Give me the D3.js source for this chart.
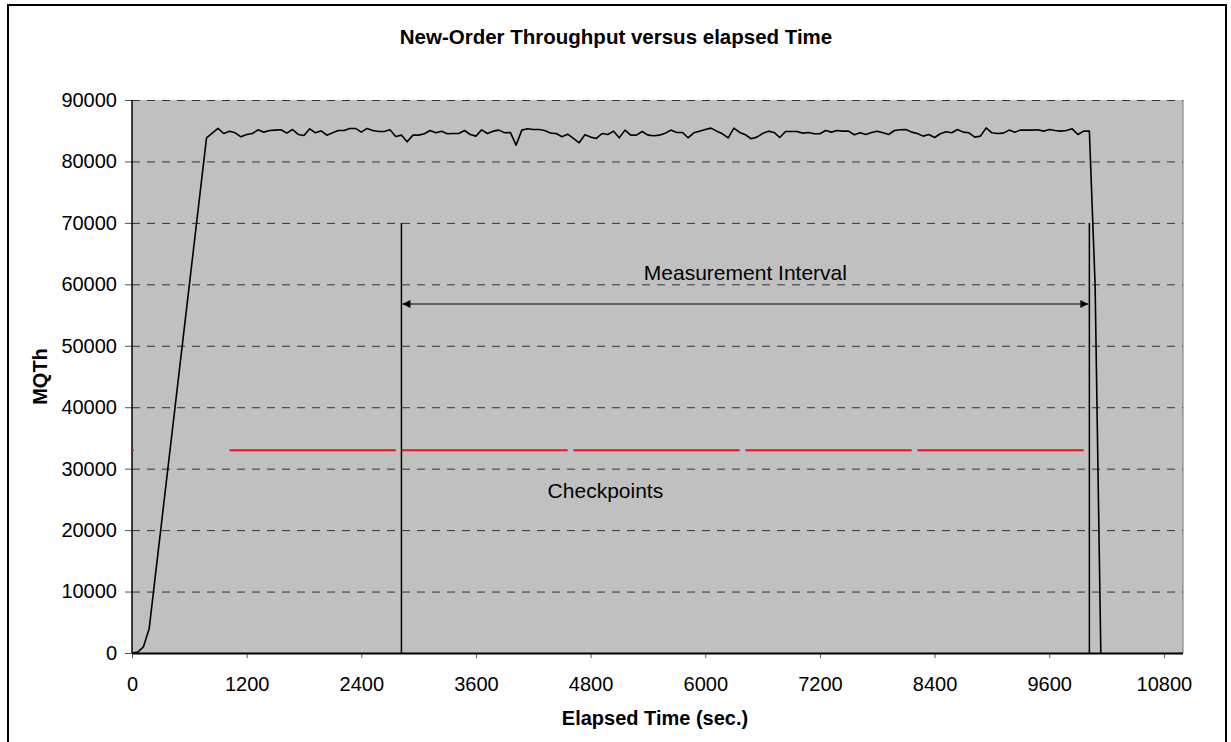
<!DOCTYPE html>
<html>
<head>
<meta charset="utf-8">
<script src="https://cdn.jsdelivr.net/npm/d3@7"></script>
<style>
  body { margin: 0; background: #fff; }
  text { font-family: "Liberation Sans", Arial, sans-serif; fill: #000; }
</style>
</head>
<body>
<div class="canvas"></div>
<script>
// throughput samples (elapsed seconds, MQTh)
const elapsed = [0, 60, 120, 180, 780, 840, 900, 960, 1020, 1080, 1140, 1200, 1260, 1320, 1380, 1440, 1500, 1560, 1620, 1680, 1740, 1800, 1860, 1920, 1980, 2040, 2100, 2160, 2220, 2280, 2340, 2400, 2460, 2520, 2580, 2640, 2700, 2760, 2820, 2880, 2940, 3000, 3060, 3120, 3180, 3240, 3300, 3360, 3420, 3480, 3540, 3600, 3660, 3720, 3780, 3840, 3900, 3960, 4020, 4080, 4140, 4200, 4260, 4320, 4380, 4440, 4500, 4560, 4620, 4680, 4740, 4800, 4860, 4920, 4980, 5040, 5100, 5160, 5220, 5280, 5340, 5400, 5460, 5520, 5580, 5640, 5700, 5760, 5820, 5880, 5940, 6000, 6060, 6120, 6180, 6240, 6300, 6360, 6420, 6480, 6540, 6600, 6660, 6720, 6780, 6840, 6900, 6960, 7020, 7080, 7140, 7200, 7260, 7320, 7380, 7440, 7500, 7560, 7620, 7680, 7740, 7800, 7860, 7920, 7980, 8040, 8100, 8160, 8220, 8280, 8340, 8400, 8460, 8520, 8580, 8640, 8700, 8760, 8820, 8880, 8940, 9000, 9060, 9120, 9180, 9240, 9300, 9360, 9420, 9480, 9540, 9600, 9660, 9720, 9780, 9840, 9900, 9960, 10020, 10080, 10140];
const mqth = [0, 150, 1000, 4000, 83850, 84600, 85370, 84550, 84930, 84660, 84010, 84390, 84550, 85150, 84770, 85040, 85100, 85150, 84610, 85200, 84390, 84230, 85310, 84660, 84990, 84280, 84660, 85040, 85040, 85370, 85370, 84770, 85370, 85040, 84880, 84880, 85150, 84070, 84280, 83200, 84280, 84280, 84500, 85040, 84660, 84930, 84500, 84550, 84550, 85040, 84390, 84120, 85150, 84550, 84930, 85100, 84660, 84720, 82660, 85100, 85310, 85200, 85200, 85040, 84610, 84550, 84010, 84440, 83740, 83040, 84340, 83960, 83740, 84550, 84390, 84930, 83850, 85100, 84280, 84280, 84880, 84280, 84170, 84280, 84600, 85100, 84720, 84720, 83850, 84660, 84930, 85200, 85420, 84930, 84500, 83850, 85420, 84720, 84340, 83690, 83960, 84550, 84930, 84720, 83900, 84880, 84880, 84880, 84610, 84720, 84500, 84500, 85040, 84770, 85040, 84930, 84930, 84340, 84660, 84390, 84700, 84930, 84660, 84390, 85040, 85150, 85200, 84770, 84550, 84120, 84390, 83900, 84500, 84820, 84660, 85200, 84770, 84660, 83960, 84120, 85470, 84660, 84550, 84610, 85100, 84770, 85100, 85100, 85100, 85150, 84930, 85200, 85040, 84930, 85040, 85310, 84390, 84930, 84930, 60000, 0];

// checkpoint intervals (seconds) drawn at a fixed level
const checkpointStart = [0, 1020, 2820, 4620, 6420, 8220];
const checkpointEnd = [20, 2760, 4560, 6360, 8160, 9960];
const checkpointLevel = 33000;

// measurement interval
const measureStart = 2820;
const measureEnd = 10020;
const measureMarkTop = 70000;
const measureArrowLevel = 56800;

const xTicks = [0, 1200, 2400, 3600, 4800, 6000, 7200, 8400, 9600, 10800];
const yTicks = [0, 10000, 20000, 30000, 40000, 50000, 60000, 70000, 80000, 90000];

const dims = { width: 1231, height: 742 };
const plot = { left: 132, right: 1183, top: 100, bottom: 653 };

const svg = d3
  .select(".canvas")
  .append("svg")
  .attr("width", dims.width)
  .attr("height", dims.height);

// outer chart frame
svg
  .append("rect")
  .attr("x", 8)
  .attr("y", 5)
  .attr("width", 1218)
  .attr("height", 780)
  .attr("fill", "#fff")
  .attr("stroke", "#000")
  .attr("stroke-width", 2);

const x = d3.scaleLinear().domain([0, 11000]).range([plot.left, plot.right]);
const y = d3.scaleLinear().domain([0, 90000]).range([plot.bottom, plot.top]);

// plot background
svg
  .append("rect")
  .attr("x", plot.left)
  .attr("y", plot.top)
  .attr("width", plot.right - plot.left)
  .attr("height", plot.bottom - plot.top)
  .attr("fill", "#c0c0c0");

// right border of plot area
svg
  .append("line")
  .attr("x1", plot.right)
  .attr("x2", plot.right)
  .attr("y1", plot.top)
  .attr("y2", plot.bottom)
  .attr("stroke", "#777")
  .attr("stroke-width", 1);

// dashed gridlines
svg
  .append("g")
  .selectAll("line")
  .data(yTicks.filter((d) => d > 0))
  .enter()
  .append("line")
  .attr("x1", plot.left)
  .attr("x2", plot.right)
  .attr("y1", (d) => y(d) + 0.5)
  .attr("y2", (d) => y(d) + 0.5)
  .attr("stroke", "#333")
  .attr("stroke-width", 1)
  .attr("stroke-dasharray", "8,7");

// axes
const yAxis = svg
  .append("g")
  .attr("transform", `translate(${plot.left}, 0)`)
  .call(d3.axisLeft(y).tickValues(yTicks).tickSize(7).tickPadding(8).tickFormat(d3.format("d")));

const xAxis = svg
  .append("g")
  .attr("transform", `translate(0, ${plot.bottom})`)
  .call(d3.axisBottom(x).tickValues(xTicks).tickSize(5).tickPadding(19).tickFormat(d3.format("d")));

[yAxis, xAxis].forEach((ax) => {
  ax.select(".domain").remove();
  ax.selectAll("text").attr("font-size", 20).attr("font-family", "Liberation Sans, Arial, sans-serif");
  ax.selectAll("line").attr("stroke", "#555");
});

svg
  .append("line")
  .attr("x1", plot.left)
  .attr("x2", plot.left)
  .attr("y1", plot.top)
  .attr("y2", plot.bottom)
  .attr("stroke", "#000")
  .attr("stroke-width", 1.5);

svg
  .append("line")
  .attr("x1", plot.left)
  .attr("x2", plot.right)
  .attr("y1", plot.bottom + 0.5)
  .attr("y2", plot.bottom + 0.5)
  .attr("stroke", "#000")
  .attr("stroke-width", 2);

// checkpoints
svg
  .append("g")
  .selectAll("line")
  .data(checkpointStart.map((s, i) => ({ s, e: checkpointEnd[i] })))
  .enter()
  .append("line")
  .attr("x1", (d) => x(d.s))
  .attr("x2", (d) => x(d.e))
  .attr("y1", y(checkpointLevel))
  .attr("y2", y(checkpointLevel))
  .attr("stroke", "#e8141c")
  .attr("stroke-width", 2);

// measurement interval markers
svg
  .append("g")
  .selectAll("line")
  .data([measureStart, measureEnd])
  .enter()
  .append("line")
  .attr("x1", (d) => x(d))
  .attr("x2", (d) => x(d))
  .attr("y1", y(0))
  .attr("y2", y(measureMarkTop))
  .attr("stroke", "#000")
  .attr("stroke-width", 1.5);

const defs = svg.append("defs");
["start", "end"].forEach((kind) => {
  defs
    .append("marker")
    .attr("id", `arrow-${kind}`)
    .attr("viewBox", "0 0 10 10")
    .attr("refX", kind === "end" ? 10 : 0)
    .attr("refY", 5)
    .attr("markerUnits", "userSpaceOnUse")
    .attr("markerWidth", 9)
    .attr("markerHeight", 8)
    .attr("orient", "auto")
    .append("path")
    .attr("d", kind === "end" ? "M0,0 L10,5 L0,10 Z" : "M10,0 L0,5 L10,10 Z")
    .attr("fill", "#000");
});

svg
  .append("line")
  .attr("x1", x(measureStart) + 1)
  .attr("x2", x(measureEnd) - 1)
  .attr("y1", y(measureArrowLevel))
  .attr("y2", y(measureArrowLevel))
  .attr("stroke", "#000")
  .attr("stroke-width", 1.2)
  .attr("marker-start", "url(#arrow-start)")
  .attr("marker-end", "url(#arrow-end)");

svg
  .append("text")
  .attr("x", x((measureStart + measureEnd) / 2))
  .attr("y", y(measureArrowLevel) - 24)
  .attr("text-anchor", "middle")
  .attr("font-size", 21)
  .text("Measurement Interval");

svg
  .append("text")
  .attr("x", x(4350))
  .attr("y", y(checkpointLevel) + 48)
  .attr("font-size", 21)
  .text("Checkpoints");

// throughput line
const line = d3
  .line()
  .x((d) => x(d.t))
  .y((d) => y(d.v));

svg
  .append("path")
  .datum(elapsed.map((t, i) => ({ t, v: mqth[i] })))
  .attr("d", line)
  .attr("fill", "none")
  .attr("stroke", "#000")
  .attr("stroke-width", 1.6)
  .attr("stroke-linejoin", "round");

// titles
svg
  .append("text")
  .attr("x", 616)
  .attr("y", 44)
  .attr("text-anchor", "middle")
  .attr("font-size", 20.5)
  .attr("font-weight", "bold")
  .text("New-Order Throughput versus elapsed Time");

svg
  .append("text")
  .attr("x", 655)
  .attr("y", 725)
  .attr("text-anchor", "middle")
  .attr("font-size", 20)
  .attr("font-weight", "bold")
  .text("Elapsed Time (sec.)");

svg
  .append("text")
  .attr("transform", `translate(47, ${(plot.top + plot.bottom) / 2}) rotate(-90)`)
  .attr("text-anchor", "middle")
  .attr("font-size", 20)
  .attr("font-weight", "bold")
  .text("MQTh");
</script>
</body>
</html>
